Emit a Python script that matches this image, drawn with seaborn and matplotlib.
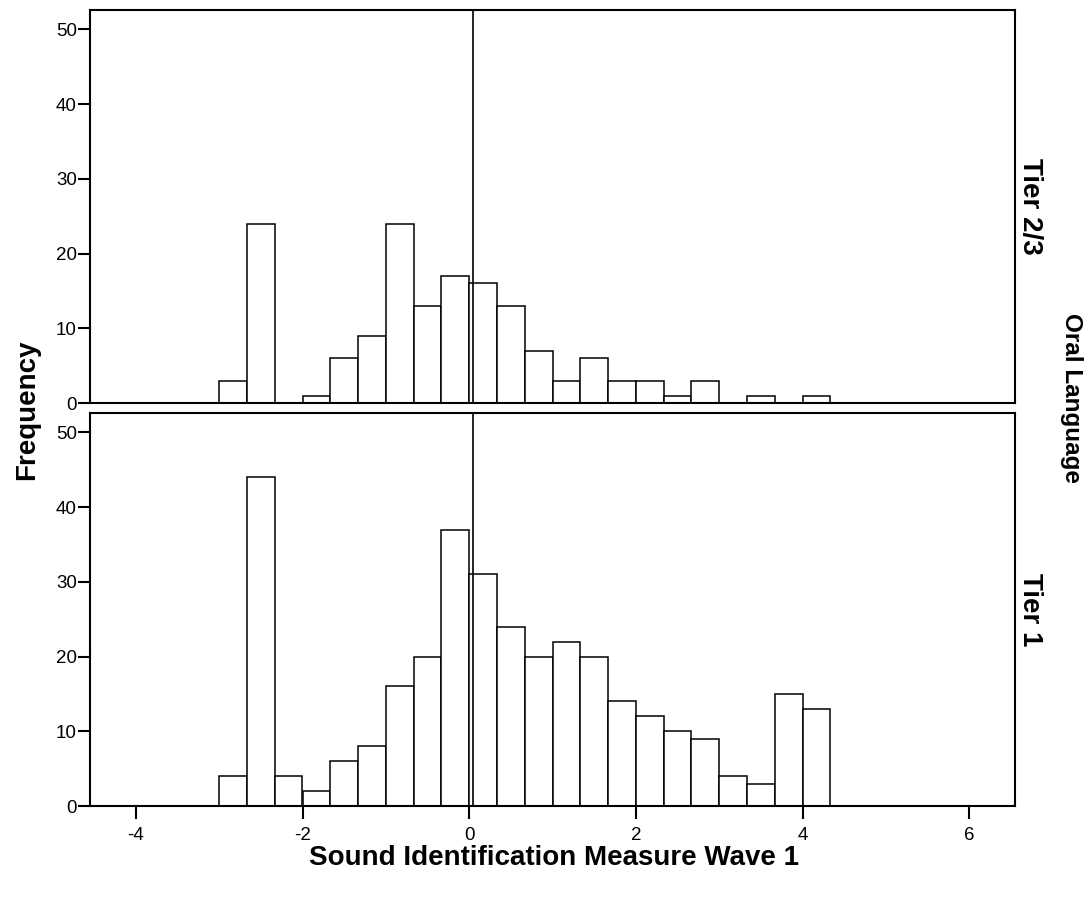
import numpy as np
import pandas as pd
import matplotlib
matplotlib.use("Agg")
import matplotlib.pyplot as plt
import seaborn as sns

# ── Data ──────────────────────────────────────────────────────────────────────
bin_start = -3.0
bin_width = 1 / 3
tier23_counts = [3, 24, 0, 1, 6, 9, 24, 13, 17, 16, 13, 7, 3, 6, 3, 3, 1, 3, 0, 1, 0, 1]
tier1_counts = [4, 44, 4, 2, 6, 8, 16, 20, 37, 31, 24, 20, 22, 20, 14, 12, 10, 9, 4, 3, 15, 13]
panel_labels = ["Tier 2/3", "Tier 1"]
ref_line = 0.05          # vertical reference line
x_ticks = [-4, -2, 0, 2, 4, 6]
y_ticks = [0, 10, 20, 30, 40, 50]

n_bins = len(tier1_counts)
edges = list(bin_start + bin_width * np.arange(n_bins + 1))
centers = [(a + b) / 2 for a, b in zip(edges[:-1], edges[1:])]

sns.set_style("white")
plt.rcParams["font.family"] = ["Liberation Sans", "DejaVu Sans"]
plt.rcParams["axes.unicode_minus"] = False
plt.rcParams["text.color"] = "black"

W, H = 1088, 897
fig = plt.figure(figsize=(W / 100, H / 100), dpi=100)

def box(x0, y0, x1, y1):
    # pixel box -> figure fraction
    return [x0 / W, 1 - y1 / H, (x1 - x0) / W, (y1 - y0) / H]

ax_top = fig.add_axes(box(90, 10, 1015, 403))
ax_bot = fig.add_axes(box(90, 413, 1015, 806))

for ax, counts, label in zip([ax_top, ax_bot], [tier23_counts, tier1_counts], panel_labels):
    df = pd.DataFrame({"score": centers, "count": counts})
    sns.histplot(data=df, x="score", weights="count", bins=edges, ax=ax,
                 color="white", edgecolor="black", linewidth=1.1, alpha=1)
    ax.axvline(ref_line, color="black", linewidth=1.2)
    ax.set_xlim(-4.55, 6.55)
    ax.set_ylim(0, 52.6)
    ax.set_yticks(y_ticks)
    ax.set_xticks(x_ticks)
    ax.set_xlabel("")
    ax.set_ylabel("")
    for sp in ax.spines.values():
        sp.set_visible(True)
        sp.set_color("black")
        sp.set_linewidth(1.5)
    ax.tick_params(axis="y", left=True, length=8.5, width=1.5, labelsize=13.5,
                   colors="black", pad=1)
    ax.text(1.0162, 0.5, label, transform=ax.transAxes, rotation=270,
            ha="center", va="center", fontsize=20, fontweight="bold", color="black")

ax_top.tick_params(axis="x", bottom=False, labelbottom=False)
ax_bot.tick_params(axis="x", bottom=True, length=9, width=1.5, labelsize=13.5,
                   colors="black", pad=6)

fig.text(27 / W, 1 - 410 / H, "Frequency", rotation=90, ha="center", va="center",
         fontsize=20, fontweight="bold", color="black")
fig.text(554 / W, 1 - 858 / H, "Sound Identification Measure Wave 1",
         ha="center", va="center", fontsize=20, fontweight="bold", color="black")
fig.text(1071 / W, 1 - 398 / H, "Oral Language", rotation=270, ha="center",
         va="center", fontsize=17.5, fontweight="bold", color="black")

fig.savefig("out.png", dpi=100, facecolor="white")
plt.close(fig)
